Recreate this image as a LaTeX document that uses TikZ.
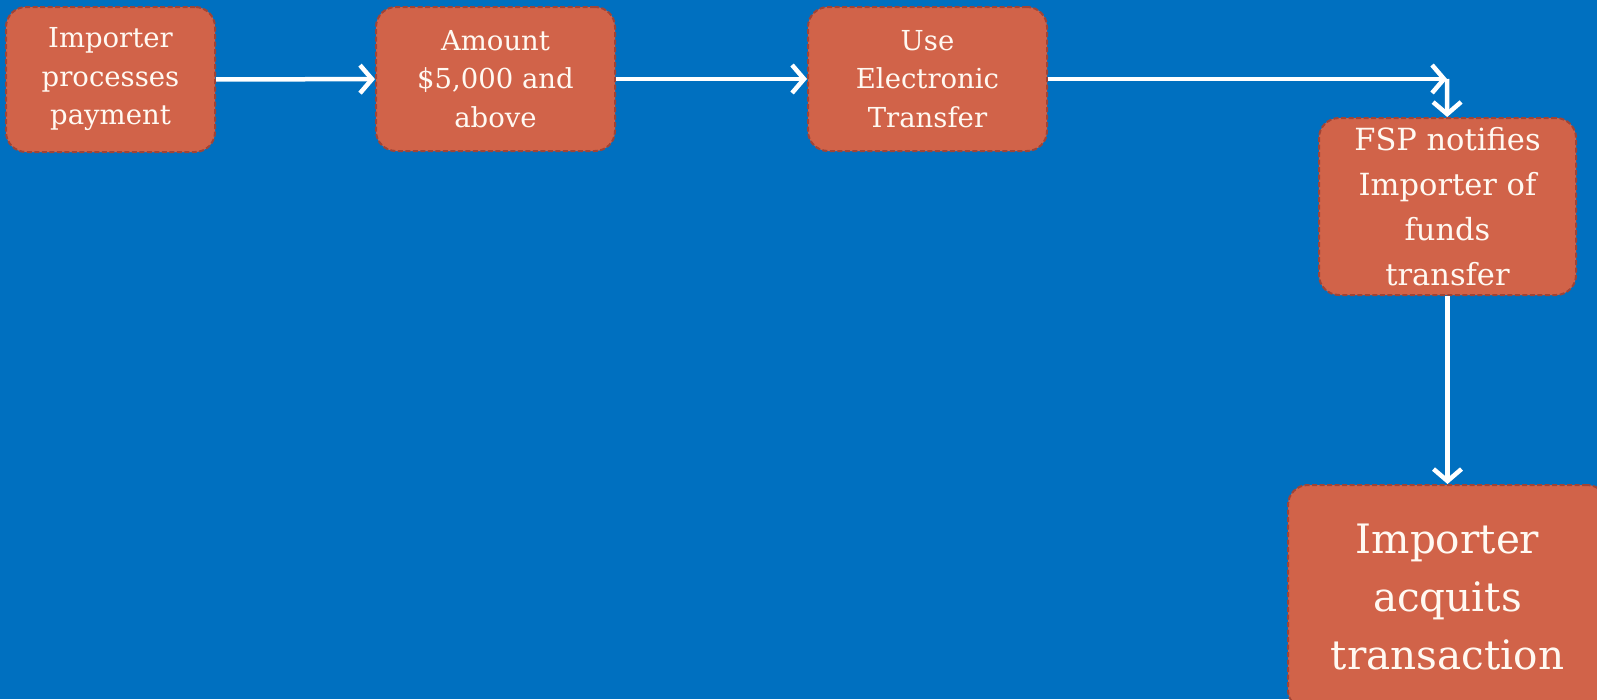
\documentclass[tikz,border=0pt]{standalone}
\usepackage{fontspec}
\setmainfont{DejaVu Serif}
\usepackage{tikz}
\usetikzlibrary{arrows.meta}

\definecolor{slideblue}{RGB}{0,112,192}
\definecolor{boxfill}{RGB}{209,99,73}
\definecolor{boxedge}{RGB}{160,68,54}
\definecolor{boxtext}{RGB}{255,249,242}

\tikzset{
  stepbox/.style={draw=boxedge, dash pattern=on 5pt off 2.5pt, line width=2pt, fill=boxfill, rounded corners=20pt,
    text=boxtext, align=center, inner sep=0pt},
  flow/.style={draw=white, line width=4.5pt, -{Straight Barb[length=12pt,width=28pt,line width=4.5pt]}}
}

\begin{document}
\begin{tikzpicture}[x=1pt, y=1pt]
\fill[slideblue] (0,0) rectangle (1597,-699);
\useasboundingbox (0,0) rectangle (1597,-699);

\node[stepbox, minimum width=209pt, minimum height=145pt, font=\fontsize{27.5}{38.5}\selectfont] (pay) at (110.5,-79.5) {Importer\\processes\\payment};
\node[stepbox, minimum width=239pt, minimum height=144pt, font=\fontsize{27.5}{38.5}\selectfont] (amount) at (495.5,-79) {Amount\\\$5,000 and\\above};
\node[stepbox, minimum width=239pt, minimum height=144pt, font=\fontsize{27.5}{38.5}\selectfont] (etrans) at (927.5,-79) {Use\\Electronic\\Transfer};
\node[stepbox, minimum width=257pt, minimum height=177pt, font=\fontsize{30.5}{45}\selectfont] (notify) at (1447.5,-206.5) {FSP notifies\\Importer of\\funds\\transfer};
\node[stepbox, minimum width=319pt, minimum height=225pt, font=\fontsize{40.5}{58}\selectfont] (acquit) at (1447.5,-597.5) {Importer\\acquits\\transaction};

\coordinate (turn) at (1447,-79);

\draw[flow] (pay) -- (amount);
\draw[flow] (amount) -- (etrans);
\draw[flow] (etrans) -- (turn);
\draw[flow] (turn) -- (notify);
\draw[flow] (notify) -- (acquit);
\end{tikzpicture}
\end{document}
